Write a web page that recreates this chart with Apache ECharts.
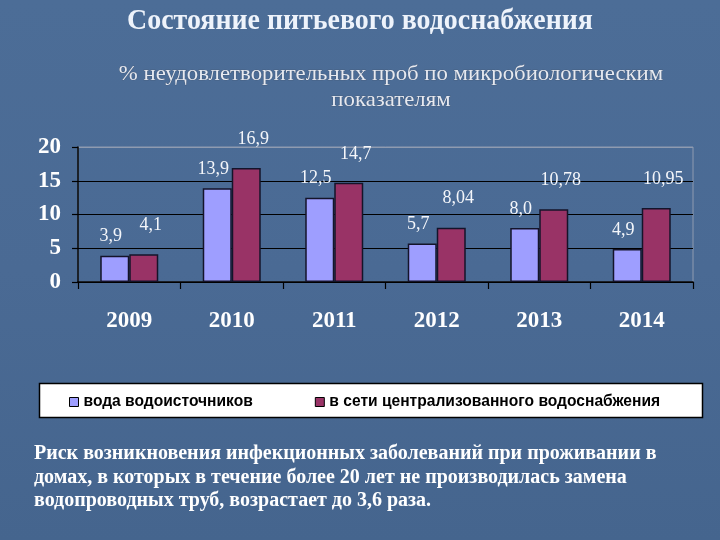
<!DOCTYPE html>
<html>
<head>
<meta charset="utf-8">
<script src="https://cdn.jsdelivr.net/npm/echarts@6/dist/echarts.min.js"></script>
<style>
html,body{margin:0;padding:0;width:720px;height:540px;overflow:hidden;}
#c{width:720px;height:540px;}
</style>
</head>
<body>
<div id="c"></div>
<script>
var titleText = 'Состояние питьевого водоснабжения';
var subtitleLines = ['% неудовлетворительных проб по микробиологическим', 'показателям'];
var footnoteLines = [
  'Риск возникновения инфекционных заболеваний при проживании в',
  'домах, в которых в течение более 20 лет не производилась замена',
  'водопроводных труб, возрастает до 3,6 раза.'
];
var years = ['2009', '2010', '2011', '2012', '2013', '2014'];
var seriesNames = ['вода водоисточников', 'в сети централизованного водоснабжения'];
var sourceWater = [3.9, 13.9, 12.5, 5.7, 8.0, 4.9];
var networkWater = [4.1, 16.9, 14.7, 8.04, 10.78, 10.95];
var sourceLabels = ['3,9', '13,9', '12,5', '5,7', '8,0', '4,9'];
var networkLabels = ['4,1', '16,9', '14,7', '8,04', '10,78', '10,95'];
var yTicks = [0, 5, 10, 15, 20];

var chart = echarts.init(document.getElementById('c'), null, {renderer: 'canvas'});
var serif = '"Liberation Serif", "Times New Roman", serif';

function makeData(vals, labels) {
  return vals.map(function (v, i) { return {value: v, labelText: labels[i]}; });
}

var graphics = [
  {type: 'rect', z: -10, shape: {x: 0, y: 0, width: 720, height: 540},
   style: {fill: new echarts.graphic.LinearGradient(0, 0, 0, 1, [
     {offset: 0, color: '#4c6d97'}, {offset: 0.5, color: '#4a6a94'}, {offset: 1, color: '#45658e'}])}},
  {type: 'text', x: 360, y: 21, scaleX: 0.93,
   style: {text: titleText, fill: '#eef3fb', font: 'bold 30px ' + serif, textAlign: 'center', textVerticalAlign: 'middle'}},
  {type: 'text', x: 391, y: 74, scaleX: 1.085,
   style: {text: subtitleLines[0], fill: '#e6e9f0', font: '21px ' + serif, textAlign: 'center', textVerticalAlign: 'middle', stroke: 'rgba(60,70,90,0.6)', lineWidth: 0.6}},
  {type: 'text', x: 391, y: 100, scaleX: 1.085,
   style: {text: subtitleLines[1], fill: '#e6e9f0', font: '21px ' + serif, textAlign: 'center', textVerticalAlign: 'middle', stroke: 'rgba(60,70,90,0.6)', lineWidth: 0.6}},
  {type: 'rect', z: 1, shape: {x: 39.5, y: 383.5, width: 663, height: 34},
   style: {fill: '#ffffff', stroke: '#000000', lineWidth: 1.5}}
];
footnoteLines.forEach(function (t, i) {
  graphics.push({type: 'text', x: 34, y: 454 + i * 23.5,
    style: {text: t, fill: '#ffffff', font: 'bold 20px ' + serif, textAlign: 'left', textVerticalAlign: 'middle'}});
});

var option = {
  animation: false,
  backgroundColor: 'transparent',
  graphic: graphics,
  grid: {left: 78, right: 27, top: 147, bottom: 258, show: true, borderColor: '#8f9bb0', borderWidth: 1, backgroundColor: 'transparent'},
  legend: {
    data: seriesNames, left: 64, top: 389, z: 10,
    icon: 'rect', itemWidth: 9, itemHeight: 9, itemGap: 62,
    itemStyle: {borderColor: '#000', borderWidth: 1},
    textStyle: {fontFamily: '"Liberation Sans", Arial, sans-serif', fontWeight: 'bold', fontSize: 15.6, color: '#000'}
  },
  xAxis: {
    type: 'category', data: years,
    axisLine: {lineStyle: {color: '#000', width: 1.5}},
    axisTick: {show: true, length: 7, lineStyle: {color: '#000', width: 1.2}},
    axisLabel: {color: '#ffffff', fontFamily: serif, fontWeight: 'bold', fontSize: 23, margin: 28}
  },
  yAxis: {
    type: 'value', min: yTicks[0], max: yTicks[yTicks.length - 1], interval: 5,
    axisLine: {show: true, lineStyle: {color: '#000', width: 1.5}},
    axisTick: {show: true, length: 6, lineStyle: {color: '#000', width: 1.2}},
    axisLabel: {color: '#ffffff', fontFamily: serif, fontWeight: 'bold', fontSize: 23, margin: 17},
    splitLine: {show: true, lineStyle: {color: ['#000', '#000', '#000', '#000', '#8f9bb0'], width: 1.2}}
  },
  series: [
    {name: seriesNames[0], type: 'bar', data: makeData(sourceWater, sourceLabels),
     barWidth: 29, barGap: '0%',
     itemStyle: {color: '#9e9eff', borderColor: '#14142a', borderWidth: 1.5},
     label: {show: true, position: 'top', distance: 10, offset: [-4, 0],
       formatter: function (p) { return p.data.labelText; },
       color: '#f4f6fa', fontFamily: serif, fontSize: 18}},
    {name: seriesNames[1], type: 'bar', data: makeData(networkWater, networkLabels),
     barWidth: 29,
     itemStyle: {color: '#993366', borderColor: '#14142a', borderWidth: 1.5},
     label: {show: true, position: 'top', distance: 20, offset: [7, 0],
       formatter: function (p) { return p.data.labelText; },
       color: '#f4f6fa', fontFamily: serif, fontSize: 18}}
  ]
};
chart.setOption(option);
</script>
</body>
</html>
